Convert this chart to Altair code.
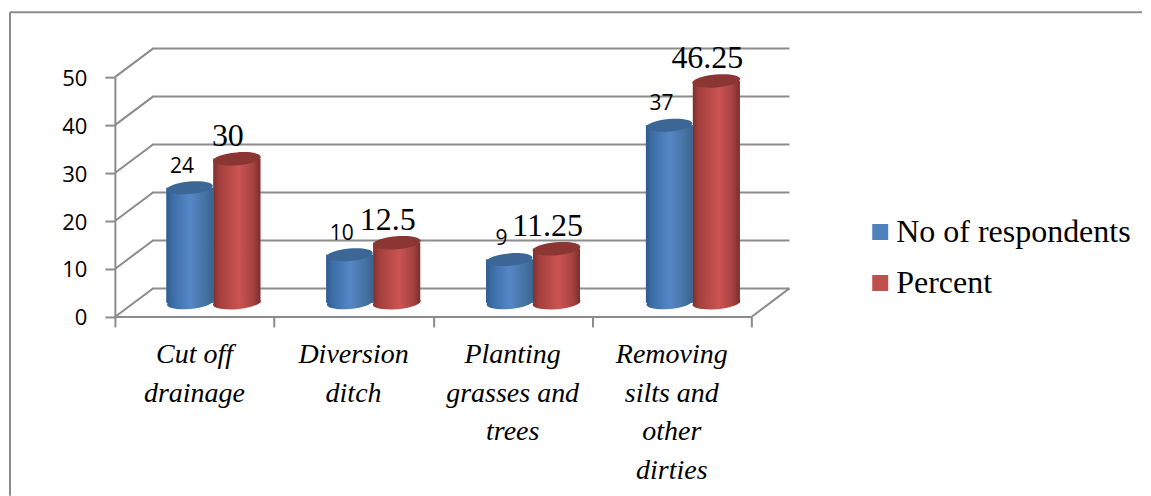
import altair as alt
import pandas as pd

categories = ["Cut off\ndrainage", "Diversion\nditch", "Planting\ngrasses and\ntrees", "Removing\nsilts and\nother\ndirties"]
series = ["No of respondents", "Percent"]
respondents = [24, 10, 9, 37]
percent = [30, 12.5, 11.25, 46.25]
y_ticks = [0, 10, 20, 30, 40, 50]
x_ticks = [0, 1, 2, 3, 4]

# simple oblique projection of the 3D chart: depth in data units
BACK_X, BACK_Y = 0.2395, 5.95
MID_X, MID_Y = 0.119, 2.96
BAR_W = 0.295
PITCH = 1.0045
GREY = "#8c8c8c"

rows = []
for i in range(4):
    for s, name, vals in ((0, series[0], respondents), (1, series[1], percent)):
        c = i * PITCH + 0.5 + MID_X + (s - 1) * BAR_W
        rows.append(dict(series=name, v=vals[i], label=str(vals[i]), x0=c, x1=c + BAR_W,
                         xc=c + BAR_W / 2, base=MID_Y, top=vals[i] + MID_Y))
bars = pd.DataFrame(rows)

grid_rows = []
for t in y_ticks:
    grid_rows += [dict(g=t, x=0, y=t, idx=0), dict(g=t, x=BACK_X, y=t + BACK_Y, idx=1),
                  dict(g=t, x=4 + BACK_X, y=t + BACK_Y, idx=2)]
grid_rows += [dict(g=-1, x=0, y=0, idx=0), dict(g=-1, x=4, y=0, idx=1), dict(g=-1, x=4 + BACK_X, y=BACK_Y, idx=2)]
grid = pd.DataFrame(grid_rows)

XSCALE = alt.Scale(domain=[0, 4], range=[107, 744])
YSCALE = alt.Scale(domain=[0, 50], range=[309, 69])
XAXIS = alt.Axis(values=x_ticks, labels=False, domain=False, grid=False, tickColor=GREY, tickSize=10,
                 tickWidth=2, offset=-179, orient="bottom")
YAXIS = alt.Axis(values=y_ticks, domainColor=GREY, domainWidth=2, tickColor=GREY, tickSize=10, tickWidth=2,
                 grid=False, offset=-107, orient="left", labelFont="Open Sans", labelFontSize=22,
                 labelColor="#000000", labelPadding=18, labelOffset=1)

def x_(f):
    return alt.X(f"{f}:Q", title=None, scale=XSCALE, axis=XAXIS)

def y_(f):
    return alt.Y(f"{f}:Q", title=None, scale=YSCALE, axis=YAXIS)

one = pd.DataFrame({"a": [0]})
frame_left = alt.Chart(one).mark_rule(color=GREY, strokeWidth=2).encode(
    x=alt.value(2), y=alt.value(4), y2=alt.value(488))
frame_top = alt.Chart(one).mark_rule(color=GREY, strokeWidth=2).encode(
    y=alt.value(4), x=alt.value(2), x2=alt.value(1135))

grid_layer = alt.Chart(grid).mark_line(color=GREY, strokeWidth=2).encode(
    x=x_("x"), y=y_("y"), detail="g:N", order=alt.Order("idx:Q"))

color = alt.Color("series:N", title=None, scale=alt.Scale(domain=series, range=["#4f81bd", "#c0504d"]),
                  legend=alt.Legend(orient="none", legendX=857, legendY=208, symbolType="square", symbolSize=256,
                                    symbolStrokeWidth=0, labelFont="Liberation Serif", labelFontSize=32,
                                    labelColor="#000000", labelLimit=400, labelOffset=0, rowPadding=19,
                                    symbolOpacity=1))

def grad(stops):
    return alt.Gradient(gradient="linear", x1=0, x2=1, y1=0, y2=0,
                        stops=[alt.GradientStop(offset=o, color=c) for o, c in stops])

blue_g = grad([(0, "#2f5b8e"), (0.12, "#3c6ca5"), (0.5, "#5487c6"), (0.85, "#44719f"), (1, "#3a6290")])
red_g = grad([(0, "#7f2f2d"), (0.12, "#a23f3d"), (0.55, "#cc5452"), (0.85, "#a34240"), (1, "#7a2e2d")])
tops = {series[0]: "#3b6696", series[1]: "#8c3634"}
sizes = {series[0]: 2116, series[1]: 2304}
ELLIPSE = "M-1,0 A1,0.27 0 1,1 1,0 A1,0.27 0 1,1 -1,0 Z"

layers = [grid_layer, frame_left, frame_top]
base = alt.Chart(bars)
layers.append(base.mark_bar(opacity=1).encode(x=x_("x0"), x2="x1:Q", y=y_("base"), y2="top:Q", color=color))
for name, g in ((series[0], blue_g), (series[1], red_g)):
    part = base.transform_filter(alt.datum.series == name)
    layers.append(part.mark_point(filled=True, shape=ELLIPSE, size=sizes[name], angle=355, fill=g, opacity=1)
                  .encode(x=x_("xc"), y=y_("base")))
    layers.append(part.mark_bar(fill=g, opacity=1).encode(x=x_("x0"), x2="x1:Q", y=y_("base"), y2="top:Q"))
    layers.append(part.mark_point(filled=True, shape=ELLIPSE, size=sizes[name], angle=355, fill=tops[name], opacity=1)
                  .encode(x=x_("xc"), y=y_("top")))

layers.append(base.transform_filter(alt.datum.series == series[0]).mark_text(
    font="Open Sans", fontSize=21, color="#000000", dx=-8, dy=-21, align="center", baseline="middle").encode(
    x=x_("xc"), y=y_("top"), text="label:N"))
layers.append(base.transform_filter(alt.datum.series == series[1]).mark_text(
    font="Liberation Serif", fontSize=32, color="#000000", dx=-9, dy=-23, align="center", baseline="middle").encode(
    x=x_("xc"), y=y_("top"), text="label:N"))

cat_df = pd.DataFrame({"c": categories, "x": [i + 0.5 for i in range(4)]})
layers.append(alt.Chart(cat_df).mark_text(font="Liberation Serif", fontSize=28, fontStyle="italic", color="#000000",
                                          lineBreak="\n", lineHeight=38.7, align="center", baseline="top").encode(
    x=x_("x"), y=alt.value(333), text="c:N"))

chart = alt.layer(*layers).properties(width=1135, height=488, padding=0, background="#ffffff").configure_view(stroke=None)

chart.save("out.html", embed_options={"renderer": "svg", "actions": False})
